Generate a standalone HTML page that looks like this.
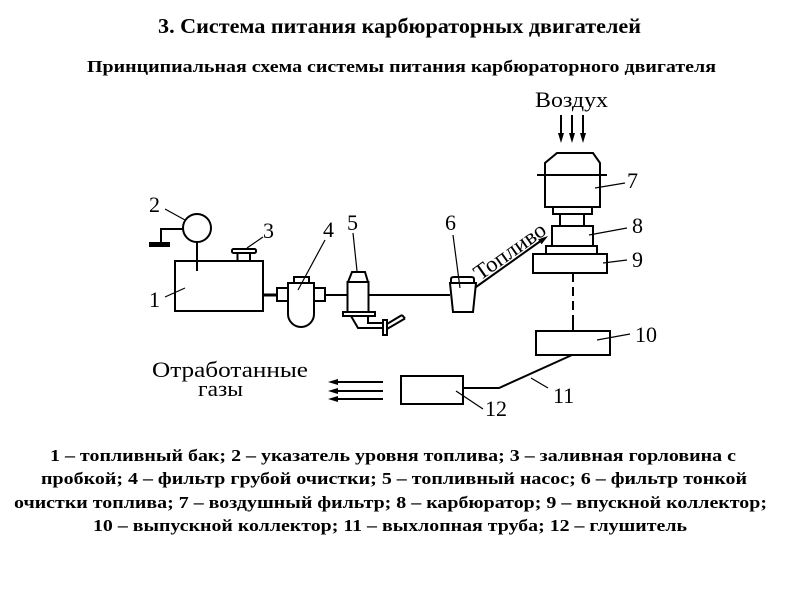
<!DOCTYPE html>
<html><head><meta charset="utf-8"><style>
html,body{margin:0;padding:0;background:#fff;}
svg{display:block;}
.t{font-family:"Liberation Serif","Noto Serif CJK SC",serif;font-weight:bold;fill:#000;}
.l{font-family:"Liberation Serif","Noto Serif CJK SC",serif;fill:#000;font-size:22px;}
</style></head><body>
<svg width="800" height="600" viewBox="0 0 800 600" xmlns="http://www.w3.org/2000/svg">
<rect width="800" height="600" fill="#fff"/>
<text class="t" x="158" y="33" font-size="21" textLength="483" lengthAdjust="spacingAndGlyphs">3. Система питания карбюраторных двигателей</text>
<text class="t" x="87" y="72" font-size="17" textLength="629" lengthAdjust="spacingAndGlyphs">Принципиальная схема системы питания карбюраторного двигателя</text>

<g class="t" font-size="17">
<text x="50" y="461" textLength="686" lengthAdjust="spacingAndGlyphs">1 – топливный бак; 2 – указатель уровня топлива; 3 – заливная горловина с</text>
<text x="41" y="484" textLength="706" lengthAdjust="spacingAndGlyphs">пробкой; 4 – фильтр грубой очистки; 5 – топливный насос; 6 – фильтр тонкой</text>
<text x="14" y="508" textLength="753" lengthAdjust="spacingAndGlyphs">очистки топлива; 7 – воздушный фильтр; 8 – карбюратор; 9 – впускной коллектор;</text>
<text x="93" y="531" textLength="594" lengthAdjust="spacingAndGlyphs">10 – выпускной коллектор; 11 – выхлопная труба; 12 – глушитель</text>
</g>

<g fill="none" stroke="#000" stroke-width="2">
<!-- gauge 2 -->
<circle cx="197" cy="228" r="14"/>
<line x1="197" y1="242" x2="197" y2="271"/>
<polyline points="183,229 161,229 161,243"/>
<!-- tank 1 -->
<rect x="175" y="261" width="88" height="50"/>
<!-- cap 3 -->
<rect x="237.5" y="253" width="12.5" height="8"/>
<rect x="232" y="249" width="24" height="4" rx="1.5"/>
<!-- pipes -->
<line x1="263" y1="295" x2="277" y2="295" stroke-width="3"/>
<line x1="325" y1="295" x2="347" y2="295"/>
<line x1="369" y1="295" x2="450" y2="295"/>
<!-- filter 4 -->
<rect x="277" y="288" width="11" height="13"/>
<rect x="314" y="288" width="11" height="13"/>
<path d="M288,283 L314,283 L314,314 A13,13 0 0 1 288,314 Z"/>
<rect x="294" y="277" width="15" height="6"/>
<!-- pump 5 -->
<path d="M352,272 L365,272 L368,282 L348,282 Z"/>
<rect x="347.5" y="282" width="21" height="30"/>
<rect x="343" y="312" width="32" height="4"/>
<polyline points="351,316 358,328 383,328"/>
<polyline points="368,316 368,323 383,323"/>
<rect x="383" y="320" width="4" height="15"/>
<line x1="387" y1="324" x2="402" y2="315"/>
<line x1="387" y1="329" x2="405" y2="318.5"/>
<line x1="402" y1="315" x2="405" y2="318.5"/>
<!-- filter 6 -->
<path d="M451,283 L451,279 Q451,277 454,277 L471,277 Q474,277 474,279 L474,283"/>
<path d="M450,283 L476,283 L473,312 L453,312 Z"/>
<!-- fuel arrow -->
<line x1="476" y1="287" x2="542" y2="240"/>
<!-- air filter 7 -->
<path d="M557,153 L593,153 L600,163 L600,207 L545,207 L545,163 Z"/>
<line x1="537" y1="175" x2="607" y2="175"/>
<rect x="553" y="207" width="39" height="7"/>
<line x1="560" y1="214" x2="560" y2="226"/>
<line x1="584" y1="214" x2="584" y2="226"/>
<!-- carburetor 8 -->
<rect x="552" y="226" width="41" height="20"/>
<rect x="546" y="246" width="51" height="8"/>
<!-- manifold 9 -->
<rect x="533" y="254" width="74" height="19"/>
<line x1="573" y1="273" x2="573" y2="316" stroke-dasharray="9,5"/>
<line x1="573" y1="316" x2="573" y2="331"/>
<!-- 10 -->
<rect x="536" y="331" width="74" height="24"/>
<polyline points="572,355 499,388 463,388"/>
<!-- 12 -->
<rect x="401" y="376" width="62" height="28"/>
<!-- air arrows -->
<line x1="561" y1="115" x2="561" y2="135"/>
<line x1="572" y1="115" x2="572" y2="135"/>
<line x1="583" y1="115" x2="583" y2="135"/>
<!-- exhaust arrows -->
<line x1="336" y1="382" x2="383" y2="382"/>
<line x1="336" y1="391" x2="383" y2="391"/>
<line x1="336" y1="399" x2="383" y2="399"/>
</g>
<rect x="149" y="242" width="21" height="5" fill="#000"/>
<g fill="#000">
<polygon points="548,236 541.6,244.2 538.1,239.4"/>
<polygon points="561,143 558,133 564,133"/>
<polygon points="572,143 569,133 575,133"/>
<polygon points="583,143 580,133 586,133"/>
<polygon points="328,382 338,379 338,385"/>
<polygon points="328,391 338,388 338,394"/>
<polygon points="328,399 338,396 338,402"/>
</g>

<!-- leaders -->
<g stroke="#000" stroke-width="1.2" fill="none">
<line x1="165" y1="297" x2="185" y2="288"/>
<line x1="165" y1="209" x2="185" y2="220"/>
<line x1="247" y1="248" x2="263" y2="237"/>
<line x1="298" y1="290" x2="325" y2="240"/>
<line x1="353" y1="233" x2="357" y2="271"/>
<line x1="453" y1="235" x2="460" y2="288"/>
<line x1="595" y1="188" x2="625" y2="183"/>
<line x1="589" y1="235" x2="627" y2="228"/>
<line x1="603" y1="263" x2="627" y2="260"/>
<line x1="597" y1="340" x2="630" y2="334"/>
<line x1="531" y1="378" x2="548" y2="388"/>
<line x1="456" y1="391" x2="483" y2="409"/>
</g>

<g class="l">
<text x="149" y="307">1</text>
<text x="149" y="212">2</text>
<text x="263" y="238">3</text>
<text x="323" y="237">4</text>
<text x="347" y="230">5</text>
<text x="445" y="230">6</text>
<text x="627" y="188">7</text>
<text x="632" y="233">8</text>
<text x="632" y="267">9</text>
<text x="635" y="342">10</text>
<text x="553" y="403">11</text>
<text x="485" y="416">12</text>
<text x="535" y="107" textLength="73" lengthAdjust="spacingAndGlyphs">Воздух</text>
<text x="152" y="377" textLength="156" lengthAdjust="spacingAndGlyphs">Отработанные</text>
<text x="198" y="396" textLength="45" lengthAdjust="spacingAndGlyphs">газы</text>
<text transform="translate(480,281) rotate(-35.3)" textLength="83" lengthAdjust="spacingAndGlyphs">Топливо</text>
</g>
</svg>
</body></html>
